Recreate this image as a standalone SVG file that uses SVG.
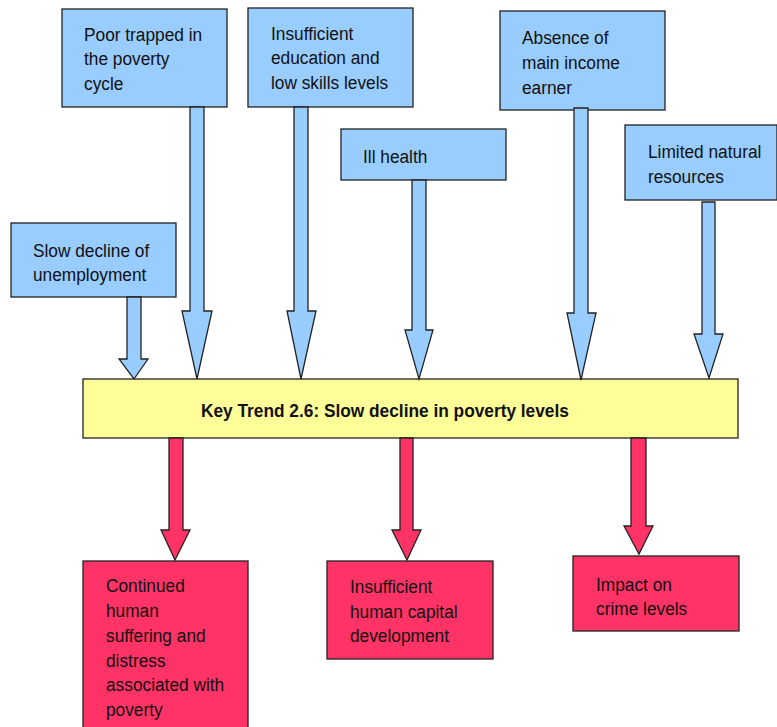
<svg xmlns="http://www.w3.org/2000/svg" width="777" height="727" viewBox="0 0 777 727">
  <style>
    .cause { fill: #99ccff; stroke: #222; stroke-width: 1.3; }
    .trend { fill: #ffff99; stroke: #222; stroke-width: 1.3; }
    .effect { fill: #ff3366; stroke: #222; stroke-width: 1.3; }
    .lbl { font-family: "Liberation Sans", Arial, sans-serif; font-size: 19px; fill: #111; }
    .bold { font-weight: bold; }
  </style>

  <!-- causes -->
  <g id="node-poor-trapped">
    <rect class="cause" x="62" y="9" width="165" height="98"/>
    <text class="lbl" transform="translate(84 0) scale(0.91 1)">
      <tspan x="0" y="41">Poor trapped in</tspan>
      <tspan x="0" y="65.5">the poverty</tspan>
      <tspan x="0" y="90">cycle</tspan>
    </text>
  </g>
  <g id="node-education">
    <rect class="cause" x="248" y="8" width="165" height="99"/>
    <text class="lbl" transform="translate(271 0) scale(0.91 1)">
      <tspan x="0" y="40">Insufficient</tspan>
      <tspan x="0" y="64.5">education and</tspan>
      <tspan x="0" y="89">low skills levels</tspan>
    </text>
  </g>
  <g id="node-ill-health">
    <rect class="cause" x="341" y="129" width="165" height="51"/>
    <text class="lbl" transform="translate(363 0) scale(0.91 1)">
      <tspan x="0" y="163">Ill health</tspan>
    </text>
  </g>
  <g id="node-income-earner">
    <rect class="cause" x="500" y="11" width="165" height="99"/>
    <text class="lbl" transform="translate(522 0) scale(0.91 1)">
      <tspan x="0" y="44">Absence of</tspan>
      <tspan x="0" y="69">main income</tspan>
      <tspan x="0" y="94">earner</tspan>
    </text>
  </g>
  <g id="node-natural-resources">
    <rect class="cause" x="625" y="125" width="152" height="75"/>
    <text class="lbl" transform="translate(648 0) scale(0.91 1)">
      <tspan x="0" y="158">Limited natural</tspan>
      <tspan x="0" y="183">resources</tspan>
    </text>
  </g>
  <g id="node-unemployment">
    <rect class="cause" x="11" y="223" width="165" height="74"/>
    <text class="lbl" transform="translate(33 0) scale(0.91 1)">
      <tspan x="0" y="257">Slow decline of</tspan>
      <tspan x="0" y="281">unemployment</tspan>
    </text>
  </g>

  <!-- central trend -->
  <g id="node-key-trend">
    <rect class="trend" x="83" y="379" width="655" height="59"/>
    <text class="lbl bold" transform="translate(201 0) scale(0.91 1)">
      <tspan x="0" y="417">Key Trend 2.6: Slow decline in poverty levels</tspan>
    </text>
  </g>

  <!-- effects -->
  <g id="node-suffering">
    <rect class="effect" x="83" y="561" width="165" height="175"/>
    <text class="lbl" transform="translate(106 0) scale(0.91 1)">
      <tspan x="0" y="592">Continued</tspan>
      <tspan x="0" y="617">human</tspan>
      <tspan x="0" y="642">suffering and</tspan>
      <tspan x="0" y="667">distress</tspan>
      <tspan x="0" y="691">associated with</tspan>
      <tspan x="0" y="716">poverty</tspan>
    </text>
  </g>
  <g id="node-human-capital">
    <rect class="effect" x="327" y="561" width="166" height="98"/>
    <text class="lbl" transform="translate(350 0) scale(0.91 1)">
      <tspan x="0" y="593">Insufficient</tspan>
      <tspan x="0" y="618">human capital</tspan>
      <tspan x="0" y="642">development</tspan>
    </text>
  </g>
  <g id="node-crime">
    <rect class="effect" x="573" y="556" width="166" height="75"/>
    <text class="lbl" transform="translate(596 0) scale(0.91 1)">
      <tspan x="0" y="591">Impact on</tspan>
      <tspan x="0" y="615">crime levels</tspan>
    </text>
  </g>

  <!-- block arrows -->
  <g id="connectors">
    <polygon class="cause" points="127,297 141,297 141,359 148,359 134,379 119,359 127,359"/>
    <polygon class="cause" points="190,107 204,107 204,311 212,311 197,379 182,311 190,311"/>
    <polygon class="cause" points="294,107 308,107 308,311 316,311 301,379 287,311 294,311"/>
    <polygon class="cause" points="412,180 426,180 426,330 433,330 419,379 405,330 412,330"/>
    <polygon class="cause" points="574,108 588,108 588,313 596,313 581,380 567,313 574,313"/>
    <polygon class="cause" points="702,202 715,202 715,334 723,334 709,378 694,334 702,334"/>

    <polygon class="effect" points="169,438 183,438 183,530 190,530 175,560 161,530 169,530"/>
    <polygon class="effect" points="400,438 413,438 413,530 421,530 407,560 392,530 400,530"/>
    <polygon class="effect" points="631,438 646,438 646,526 653,526 639,554 624,526 631,526"/>
  </g>
</svg>
